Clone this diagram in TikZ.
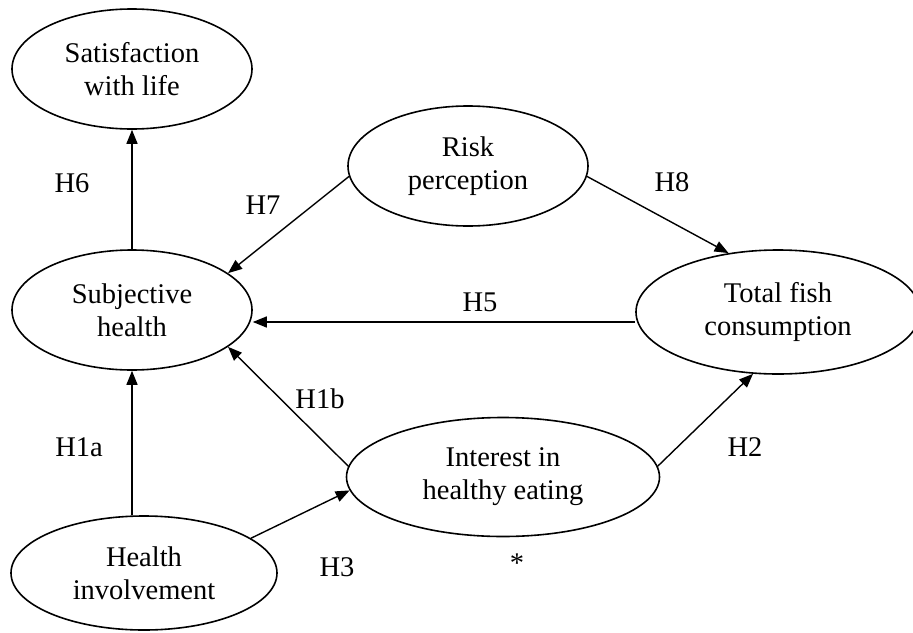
\documentclass[tikz,border=0pt]{standalone}
\usepackage{fontspec}
\setmainfont{Liberation Serif}
\usetikzlibrary{shapes.geometric,arrows.meta}

\tikzset{
  construct/.style={draw, line width=1.6pt, ellipse, inner sep=0pt,
    align=center, font=\fontsize{28.5}{33}\selectfont},
  hyp/.style={font=\fontsize{28.5}{33}\selectfont, inner sep=0pt},
  path/.style={line width=1.4pt, -{Triangle[length=14pt,width=11pt]}}
}

\begin{document}
\begin{tikzpicture}[x=1pt, y=-1pt]
\useasboundingbox (0,0) rectangle (913,632);

% latent constructs
\node[construct, minimum width=240pt, minimum height=120pt] (sat) at (132,69) {Satisfaction\\with life};
\node[construct, minimum width=240pt, minimum height=120pt] (risk) at (468,166) {Risk\\perception};
\node[construct, minimum width=240pt, minimum height=120pt] (sh) at (132,310) {Subjective\\health};
\node[construct, minimum width=284pt, minimum height=124pt] (tf) at (778,312) {Total fish\\consumption};
\node[construct, minimum width=313pt, minimum height=119pt] (int) at (503,477) {Interest in\\healthy eating};
\node[construct, minimum width=266pt, minimum height=114pt] (hi) at (144,573) {Health\\involvement};

% hypothesised paths
\draw[path] (sh.north) -- (sat.south);
\draw[path] (risk.185) -- (sh.21);
\draw[path] (risk.-5) -- (tf.130);
\draw[path] ([yshift=-10pt]tf.west) -- ([yshift=-12pt]sh.east);
\draw[path] (int.176) -- (sh.-21);
\draw[path] (int.4) -- (tf.248);
\draw[path] (hi.north -| sh.south) -- (sh.south);
\draw[path] (hi.18) -- (int.185);

% path labels
\node[hyp] (h6) at (72,183) {H6};
\node[hyp] (h7) at (263,205) {H7};
\node[hyp] (h8) at (672,182) {H8};
\node[hyp] (h5) at (480,302) {H5};
\node[hyp] (h1b) at (320,399) {H1b};
\node[hyp] (h1a) at (79,447) {H1a};
\node[hyp] (h2) at (745,447) {H2};
\node[hyp] (h3) at (337,567) {H3};
\node[hyp] (star) at (517,563) {*};
\end{tikzpicture}
\end{document}
